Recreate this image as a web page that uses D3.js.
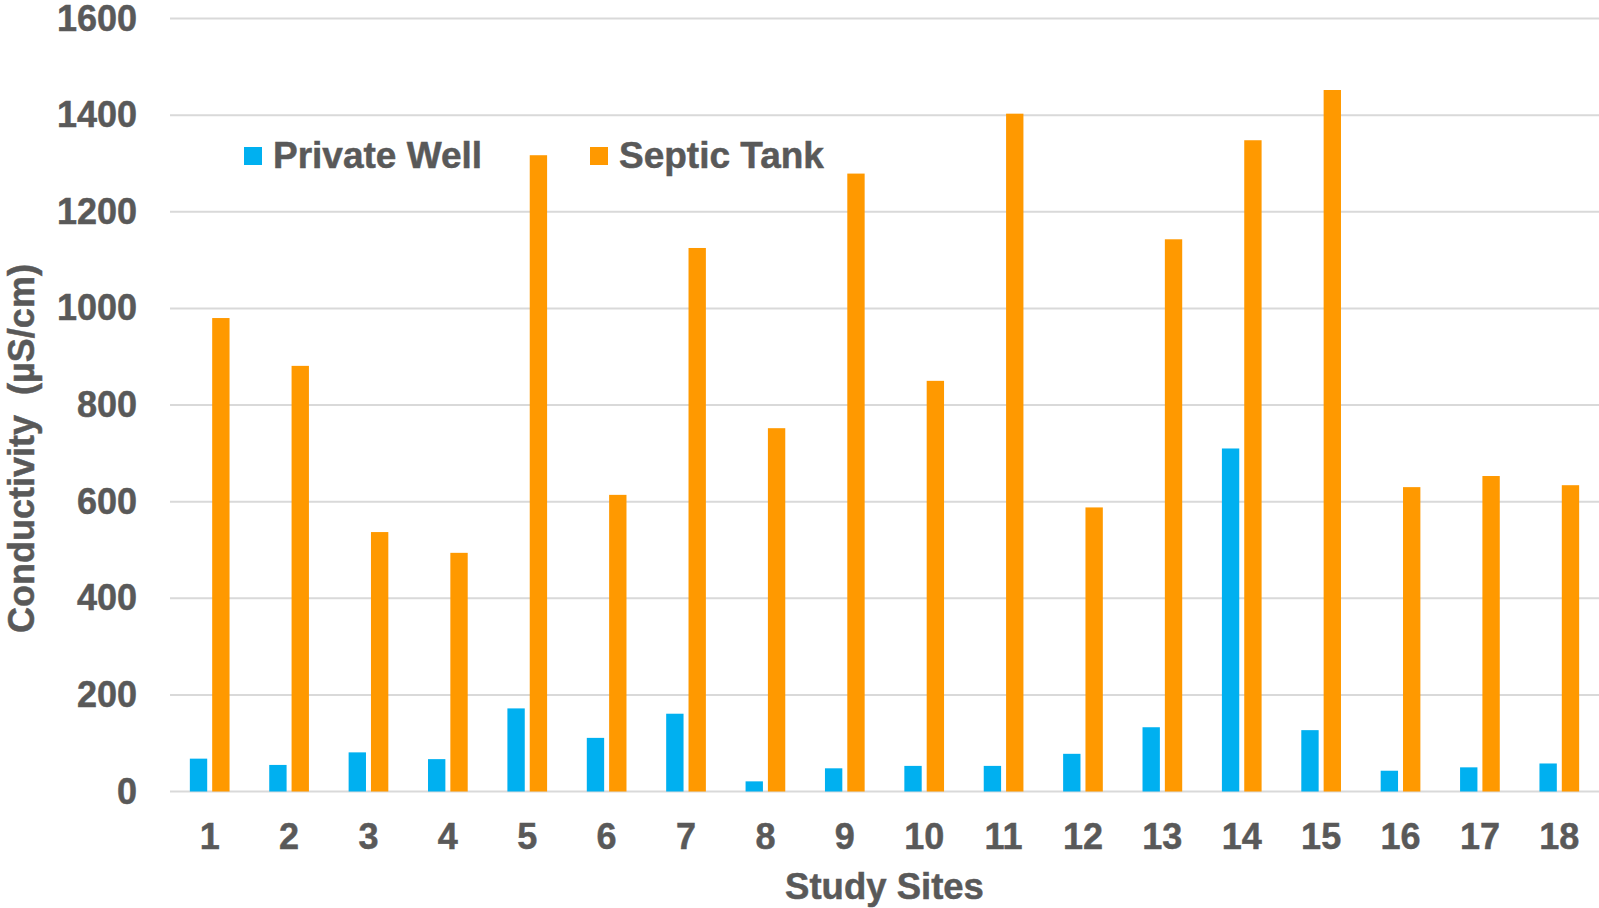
<!DOCTYPE html>
<html>
<head>
<meta charset="utf-8">
<script src="https://cdn.jsdelivr.net/npm/d3@7"></script>
<style>
  html, body { margin: 0; padding: 0; background: #ffffff; }
  svg { display: block; }
  text { font-family: "Liberation Sans", Arial, sans-serif; font-weight: bold; fill: #595959; stroke: #595959; stroke-width: 0.5px; }
</style>
</head>
<body>
<div id="chart"></div>
<script>
const sites = ["1","2","3","4","5","6","7","8","9","10","11","12","13","14","15","16","17","18"];
const seriesNames = ["Private Well", "Septic Tank"];
const privateWell = [68, 55, 81, 67, 172, 111, 161, 21, 48, 53, 53, 78, 133, 710, 127, 43, 50, 58];
const septicTank = [980, 881, 537, 494, 1317, 614, 1125, 752, 1279, 850, 1403, 588, 1143, 1348, 1452, 630, 653, 634];
const yTicks = [0, 200, 400, 600, 800, 1000, 1200, 1400, 1600];
const colors = ["#00B0F0", "#FF9900"];
const yTitle = "Conductivity  (µS/cm)";
const xTitle = "Study Sites";

(function () {
const W = 1599, H = 908;
const pLeft = 170, pRight = 1599, pTop = 18.5, pBottom = 791.5;

const svg = d3.select("#chart").append("svg").attr("width", W).attr("height", H);

const x0 = d3.scaleBand().domain(sites).range([pLeft, pRight]).paddingInner(0.5).paddingOuter(0.25);
const x1 = d3.scaleBand().domain(seriesNames).range([0, x0.bandwidth()]).paddingInner(0.223).paddingOuter(0);
const y = d3.scaleLinear().domain([0, 1600]).range([pBottom, pTop]);

// gridlines
svg.append("g").selectAll("line").data(yTicks).join("line")
  .attr("x1", pLeft).attr("x2", pRight)
  .attr("y1", d => y(d)).attr("y2", d => y(d))
  .attr("stroke", "#d9d9d9").attr("stroke-width", 2);

// bars
const data = sites.map((s, i) => ({ site: s, values: [privateWell[i], septicTank[i]] }));
const groups = svg.append("g").selectAll("g").data(data).join("g")
  .attr("transform", d => `translate(${x0(d.site)},0)`);
groups.selectAll("rect").data(d => d.values.map((v, j) => ({ key: seriesNames[j], v, j })))
  .join("rect")
  .attr("x", d => x1(d.key))
  .attr("width", x1.bandwidth())
  .attr("y", d => y(d.v))
  .attr("height", d => y(0) - y(d.v))
  .attr("fill", d => colors[d.j]);

// y axis labels
const yAxis = svg.append("g").attr("transform", `translate(${pLeft},0)`)
  .call(d3.axisLeft(y).tickValues(yTicks).tickSize(0).tickPadding(33).tickFormat(d3.format("d")));
yAxis.select(".domain").remove();
yAxis.selectAll("text").style("font-size", "36px").attr("fill", "#595959")
  .style("font-family", "'Liberation Sans', Arial, sans-serif").style("font-weight", "bold");

// x axis labels
const xAxis = svg.append("g").attr("transform", `translate(0,${pBottom})`)
  .call(d3.axisBottom(x0).tickSize(0).tickPadding(31.5));
xAxis.select(".domain").remove();
xAxis.selectAll("text").style("font-size", "36px").attr("fill", "#595959")
  .style("font-family", "'Liberation Sans', Arial, sans-serif").style("font-weight", "bold");

// axis titles
svg.append("text")
  .attr("transform", `translate(34,448.5) rotate(-90)`)
  .attr("text-anchor", "middle")
  .style("font-size", "36px")
  .style("white-space", "pre")
  .text(yTitle);

svg.append("text")
  .attr("x", (pLeft + pRight) / 2).attr("y", 899)
  .attr("text-anchor", "middle")
  .style("font-size", "36.5px")
  .text(xTitle);

// legend
const legendX = [244, 590];
const leg = svg.append("g").selectAll("g").data(seriesNames).join("g")
  .attr("transform", (d, i) => `translate(${legendX[i]},147)`);
leg.append("rect").attr("width", 18).attr("height", 18).attr("fill", (d, i) => colors[i]);
leg.append("text").attr("x", 29).attr("y", 21).style("font-size", "37px").text(d => d);
})();
</script>
</body>
</html>
